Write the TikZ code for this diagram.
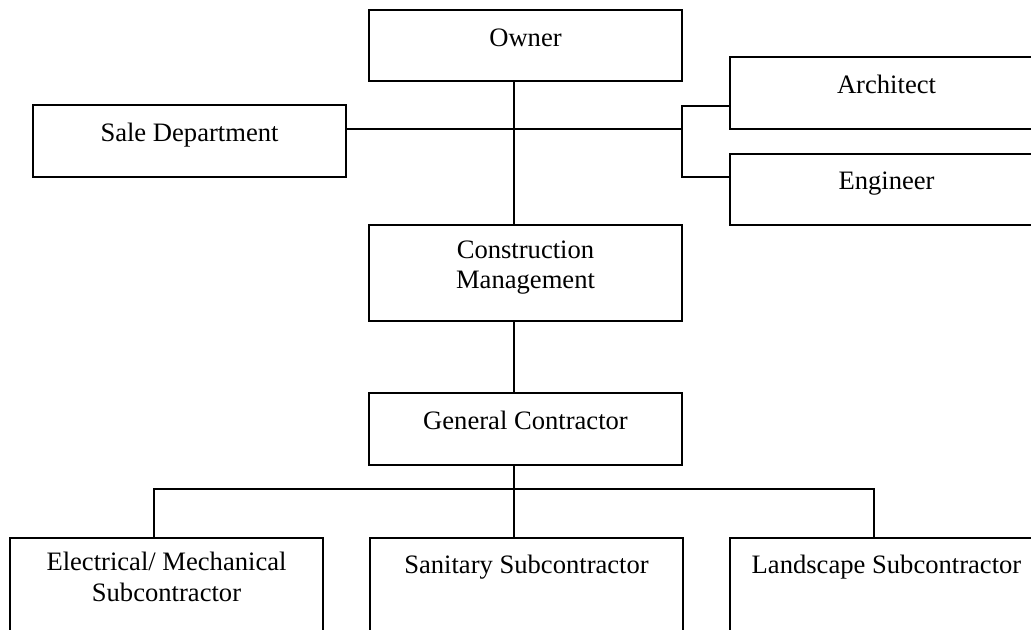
\documentclass[tikz,border=0pt]{standalone}
\usepackage{fontspec}
\setmainfont{Liberation Serif}
\begin{document}
\begin{tikzpicture}[x=0.5pt, y=-0.5pt,
  box/.style={draw, line width=1pt, inner sep=0pt, outer sep=0pt,
    anchor=north west, minimum width=156.5pt},
  lbl/.style={anchor=north, inner sep=0pt, align=center,
    font=\fontsize{13.3pt}{15.3pt}\selectfont, execute at begin node=\strut},
  link/.style={line width=1pt, line join=miter}]
\useasboundingbox (0,0) rectangle (1031,630);
\clip (0,0) rectangle (1031,630);

% boxes
\node[box, minimum height=35.5pt] (owner) at (369,10) {};
\node[box, minimum height=36pt]   (sale)  at (33,105) {};
\node[box, minimum height=36pt]   (arch)  at (730,57) {};
\node[box, minimum height=35.5pt] (eng)   at (730,154) {};
\node[box, minimum height=48pt]   (cm)    at (369,225) {};
\node[box, minimum height=36pt]   (gc)    at (369,393) {};
\node[box, minimum height=60pt]   (elec)  at (10,538) {};
\node[box, minimum height=60pt]   (san)   at (370,538) {};
\node[box, minimum height=60pt]   (land)  at (730,538) {};

% labels, set near the top of each box
\node[lbl] (owner-t) at ([yshift=-7.5pt]owner.north) {Owner};
\node[lbl] (sale-t)  at ([yshift=-7.5pt]sale.north) {Sale Department};
\node[lbl] (arch-t)  at ([yshift=-7.5pt]arch.north) {Architect};
\node[lbl] (eng-t)   at ([yshift=-7pt]eng.north) {Engineer};
\node[lbl] (cm-t)    at ([yshift=-7.5pt]cm.north) {Construction\\Management};
\node[lbl] (gc-t)    at ([yshift=-7.3pt]gc.north) {General Contractor};
\node[lbl] (elec-t)  at ([yshift=-7pt]elec.north) {Electrical/ Mechanical\\Subcontractor};
\node[lbl] (san-t)   at ([yshift=-7pt]san.north) {Sanitary Subcontractor};
\node[lbl] (land-t)  at ([yshift=-7pt]land.north) {Landscape Subcontractor};

% junction points
\coordinate (spine) at (514,0);
\coordinate (jm) at (682,129);
\coordinate (ja) at (682,106);
\coordinate (je) at (682,177);
\coordinate (bus) at (514,489);
\coordinate (bl) at (154,489);
\coordinate (br) at (874,489);

% connectors
\draw[link] (owner.south -| spine) -- (cm.north -| spine);
\draw[link] (sale.east |- jm) -- (jm);
\draw[link] (arch.west |- ja) -- (ja) -- (je) -- (eng.west |- je);
\draw[link] (cm.south -| spine) -- (gc.north -| spine);
\draw[link] (gc.south -| spine) -- (bus);
\draw[link] (elec.north -| bl) -- (bl) -- (br) -- (land.north -| br);
\draw[link] (bus) -- (san.north -| bus);
\end{tikzpicture}
\end{document}
